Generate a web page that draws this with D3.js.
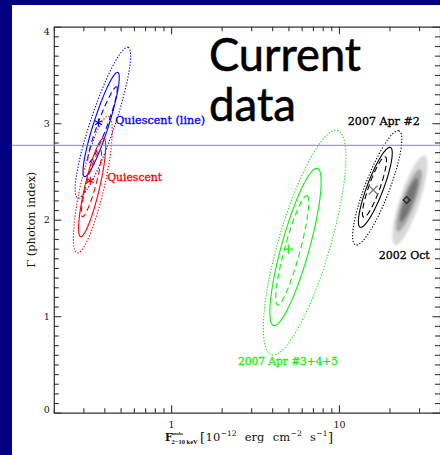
<!DOCTYPE html>
<html><head><meta charset="utf-8">
<script src="https://cdn.jsdelivr.net/npm/d3@7"></script>
<style>html,body{margin:0;padding:0;background:#000080;overflow:hidden}</style>
</head><body>
<svg id="c" width="440" height="455"></svg>
<script>
// ---------- DATA ----------
const xDomain = [0.2, 40];          // flux, 1e-12 erg/cm2/s (log)
const yDomain = [0, 4];             // photon index
const xMajorTicks = [1, 10];
const yMajorTicks = [0, 1, 2, 3, 4];

const seriesNames  = ["Quiescent (line)", "Quiescent", "2007 Apr #3+4+5", "2007 Apr #2"];
// each contour: top point [flux, Γ], bottom point [flux, Γ], horizontal half width (decades)
const quiescentLine = [
  {lvl: "dashed", top: [0.472, 3.378], bottom: [0.322, 2.588], hw: 0.030},
  {lvl: "solid",  top: [0.479, 3.527], bottom: [0.306, 2.446], hw: 0.047},
  {lvl: "dotted", top: [0.549, 3.787], bottom: [0.280, 2.225], hw: 0.077}
];
const quiescent = [
  {lvl: "dashed", top: [0.378, 2.722], bottom: [0.297, 2.031], hw: 0.029},
  {lvl: "solid",  top: [0.395, 2.844], bottom: [0.290, 1.824], hw: 0.045},
  {lvl: "dotted", top: [0.421, 3.074], bottom: [0.277, 1.655], hw: 0.072}
];
const apr345 = [
  {lvl: "dashed", top: [6.42, 2.249], bottom: [4.32, 1.116], hw: 0.048},
  {lvl: "solid",  top: [7.37, 2.533], bottom: [4.12, 0.902], hw: 0.086},
  {lvl: "dotted", top: [9.60, 2.927], bottom: [4.06, 0.598], hw: 0.160}
];
const apr2 = [
  {lvl: "dashed", top: [18.8, 2.653], bottom: [14.1, 2.025], hw: 0.035},
  {lvl: "solid",  top: [20.1, 2.750], bottom: [13.5, 1.921], hw: 0.052},
  {lvl: "dotted", top: [22.5, 2.922], bottom: [12.7, 1.738], hw: 0.078}
];
// 2002 Oct filled probability regions (outer -> inner)
const oct2002 = [
  {lvl: 1, top: [32.1, 2.665], bottom: [21.8, 1.738], hw: 0.062},
  {lvl: 2, top: [30.3, 2.522], bottom: [22.5, 1.876], hw: 0.042},
  {lvl: 3, top: [29.1, 2.432], bottom: [23.4, 1.976], hw: 0.027}
];
// best-fit points [flux, Γ]
const bestFitNames = ["Quiescent (line)", "Quiescent", "2007 Apr #3+4+5", "2007 Apr #2", "2002 Oct"];
const bestFitFlux  = [0.369, 0.330, 4.99, 16.0, 25.3];
const bestFitGamma = [3.005, 2.404, 1.696, 2.308, 2.204];

// annotation labels (anchor points in data units)
const labelTexts = ["Quiescent (line)", "Quiescent", "2007 Apr #2", "2002 Oct", "2007 Apr #3+4+5"];
const labelFlux  = [0.464, 0.416, 18.5, 24.5, 4.97];
const labelGamma = [3.033, 2.443, 3.02, 1.634, 0.528];
const separatorGamma = 2.771;   // slide's horizontal rule

// x-axis title units pieces: [text, kind]
const unitPieces = [["[", "br"], ["10", "n"], ["−12", "sup"], ["erg", "n"], ["cm", "n"], ["−2", "sup"], ["s", "n"], ["−1", "sup"], ["]", "br"]];

// ---------- STYLE ----------
const seriesColors = ["#0000ff", "#ff0000", "#11ee11", "#000000"];
const markerColors = ["#0000ff", "#ff0000", "#11ee11", "#777777", "#222222"];
const markerTypes  = [d3.symbolAsterisk, d3.symbolAsterisk, d3.symbolPlus, d3.symbolTimes, d3.symbolDiamond2];
const markerSizes  = [45, 45, 30, 55, 30];
const labelColors  = ["#0000ff", "#ff0000", "#000000", "#000000", "#11ee11"];
const labelAnchors = ["start", "start", "middle", "middle", "middle"];
const labelWidths  = [90, 55, 72, 51, 100];
const dashes = {dashed: "6,3.5", solid: null, dotted: "1.3,1.7"};
const grays = ["#d8d8d8", "#a6a6a6", "#747474"];

// ---------- DRAW ----------
const W = 440, H = 455;
const svg = d3.select("#c");
svg.append("rect").attr("width", W).attr("height", H).attr("fill", "#000080");
svg.append("rect").attr("x", 12).attr("y", 5).attr("width", W - 12).attr("height", H - 5).attr("fill", "#fff");

const x = d3.scaleLog().domain(xDomain).range([53.8, 440]);
const y = d3.scaleLinear().domain(yDomain).range([412.7, 26.7]);
const pxPerDec = (x.range()[1] - x.range()[0]) / Math.log10(xDomain[1] / xDomain[0]);

function ellipsePts(c) {
  const T = [x(c.top[0]), y(c.top[1])], B = [x(c.bottom[0]), y(c.bottom[1])];
  const C = [(T[0] + B[0]) / 2, (T[1] + B[1]) / 2];
  const A = [(T[0] - B[0]) / 2, (T[1] - B[1]) / 2];
  const b = c.hw * pxPerDec;
  return d3.range(0, 360, 3).map(d => {
    const t = d * Math.PI / 180;
    return [C[0] + A[0] * Math.cos(t) + b * Math.sin(t), C[1] + A[1] * Math.cos(t)];
  });
}
const line = d3.line().curve(d3.curveCardinalClosed);

const plot = svg.append("g");
const defs = svg.append("defs");
defs.append("filter").attr("id", "soft").append("feGaussianBlur").attr("stdDeviation", 1.0);

// 2002 Oct filled
plot.append("g").attr("filter", "url(#soft)").selectAll("path").data(oct2002).join("path")
  .attr("d", d => line(ellipsePts(d))).attr("fill", (d, i) => grays[i]);

// line contours
[quiescentLine, quiescent, apr345, apr2].forEach((set, si) => {
  plot.append("g").selectAll("path").data(set).join("path")
    .attr("d", d => line(ellipsePts(d)))
    .attr("fill", "none").attr("stroke", seriesColors[si]).attr("stroke-width", 1.1)
    .attr("stroke-dasharray", d => dashes[d.lvl]);
});

// markers
plot.append("g").selectAll("path").data(bestFitNames).join("path")
  .attr("transform", (d, i) => `translate(${x(bestFitFlux[i])},${y(bestFitGamma[i])})`)
  .attr("d", (d, i) => d3.symbol(markerTypes[i], markerSizes[i])())
  .attr("fill", "none").attr("stroke", (d, i) => markerColors[i]).attr("stroke-width", 1.2);

// labels
plot.append("g").selectAll("text").data(labelTexts).join("text")
  .attr("x", (d, i) => x(labelFlux[i])).attr("y", (d, i) => y(labelGamma[i]))
  .attr("dy", "0.35em")
  .attr("text-anchor", (d, i) => labelAnchors[i])
  .attr("font-family", "DejaVu Serif, serif").attr("font-size", 10.5)
  .attr("textLength", (d, i) => labelWidths[i]).attr("lengthAdjust", "spacingAndGlyphs")
  .attr("fill", (d, i) => labelColors[i]).attr("stroke", (d, i) => labelColors[i]).attr("stroke-width", 0.3)
  .text(d => d);

// axes
const axisColor = "#333";
const xMinor = x.ticks().filter(v => !xMajorTicks.includes(v));
const yMinor = y.ticks(40).filter(v => Math.abs(v - Math.round(v)) > 1e-6);
function styleAxis(g) {
  g.selectAll("path.domain").attr("stroke", axisColor).attr("stroke-width", 1.2);
  g.selectAll(".tick line").attr("stroke", axisColor).attr("stroke-width", 1.1);
  g.selectAll("text").attr("font-family", "DejaVu Serif, serif").attr("font-size", 9.5).attr("fill", "#111");
}
const gx = svg.append("g").attr("transform", `translate(0,${y(0)})`);
gx.call(d3.axisBottom(x).tickValues(xMinor).tickSize(-4.5).tickSizeOuter(0).tickFormat(""));
gx.append("g").call(d3.axisBottom(x).tickValues(xMajorTicks).tickSize(-7.5).tickSizeOuter(0).tickPadding(9).tickFormat(d3.format("d")))
  .call(g => g.select("path.domain").remove());
styleAxis(gx);

const gt = svg.append("g").attr("transform", `translate(0,${y(4)})`);
gt.call(d3.axisTop(x).tickValues(xMinor).tickSize(-4.5).tickSizeOuter(0).tickFormat(""));
gt.append("g").call(d3.axisTop(x).tickValues(xMajorTicks).tickSize(-7.5).tickSizeOuter(0).tickFormat(""))
  .call(g => g.select("path.domain").remove());
styleAxis(gt);

const gy = svg.append("g").attr("transform", `translate(${x(xDomain[0])},0)`);
gy.call(d3.axisLeft(y).tickValues(yMinor).tickSize(-5).tickSizeOuter(0).tickFormat(""));
gy.append("g").call(d3.axisLeft(y).tickValues(yMajorTicks).tickSize(-7.5).tickSizeOuter(0).tickPadding(4).tickFormat(d3.format("d")))
  .call(g => g.select("path.domain").remove())
  .call(g => g.selectAll("text").attr("dy", d => d === 4 ? "0.85em" : d === 0 ? "0em" : "0.32em"));
styleAxis(gy);

const gr = svg.append("g").attr("transform", `translate(${x(xDomain[1])},0)`);
gr.call(d3.axisRight(y).tickValues(yMinor).tickSize(-5).tickSizeOuter(0).tickFormat(""));
gr.append("g").call(d3.axisRight(y).tickValues(yMajorTicks).tickSize(-7.5).tickSizeOuter(0).tickFormat(""))
  .call(g => g.select("path.domain").remove());
styleAxis(gr);

// axis titles
svg.append("text")
  .attr("transform", `translate(34.5,${(y(0) + y(4)) / 2})  rotate(-90)`)
  .attr("text-anchor", "middle").attr("font-family", "DejaVu Serif, serif").attr("font-size", 10.5)
  .attr("textLength", 96).attr("lengthAdjust", "spacingAndGlyphs")
  .attr("fill", "#111").text("Γ (photon index)");

const xt = svg.append("g").attr("font-family", "DejaVu Serif, serif").attr("fill", "#111");
xt.append("text").attr("x", 165).attr("y", 441).attr("font-size", 10.5).attr("font-weight", "bold").text("F");
xt.append("text").attr("x", 171.5).attr("y", 434.5).attr("font-size", 4.5).attr("font-weight", "bold")
  .attr("font-family", "Liberation Serif, serif").text("unabs");
xt.append("text").attr("x", 171.5).attr("y", 443.5).attr("font-size", 6.5).attr("font-weight", "bold")
  .attr("font-family", "Liberation Serif, serif").text("2−10 keV");
// units laid out piece by piece, spread to span the reference width
const unitStart = 200, unitEnd = 333;
const pieceFont = {br: 13, n: 11.5, sup: 7.5};
const pieceY = {br: 442, n: 441, sup: 436};
const pieces = unitPieces.map(p => xt.append("text").attr("font-size", pieceFont[p[1]]).attr("y", pieceY[p[1]]).text(p[0]));
const widths = pieces.map(s => s.node().getComputedTextLength());
const isWordGap = unitPieces.map((p, i) => (i === 0 || p[1] !== "n" || unitPieces[i - 1][0] === "[") ? 0 : 1);
const tiny = 0.5;
const extra = (unitEnd - unitStart - d3.sum(widths) - tiny * (pieces.length - 1)) / d3.sum(isWordGap);
let cx = unitStart;
pieces.forEach((s, i) => { if (i > 0) cx += tiny + isWordGap[i] * extra; s.attr("x", cx); cx += widths[i]; });

// slide overlay text and rule
svg.append("line").attr("x1", 12).attr("x2", W).attr("y1", y(separatorGamma)).attr("y2", y(separatorGamma))
  .attr("stroke", "#8484c6").attr("stroke-width", 1);
const big = svg.append("g").attr("font-family", "Lato, 'Open Sans', sans-serif").attr("font-size", 47)
  .attr("fill", "#000").attr("stroke", "#000").attr("stroke-width", 0.6);
big.append("text").attr("x", 209).attr("y", 70.5).attr("textLength", 152).attr("lengthAdjust", "spacingAndGlyphs").text("Current");
big.append("text").attr("x", 209).attr("y", 121).attr("textLength", 87).attr("lengthAdjust", "spacingAndGlyphs").text("data");
</script>
</body></html>
